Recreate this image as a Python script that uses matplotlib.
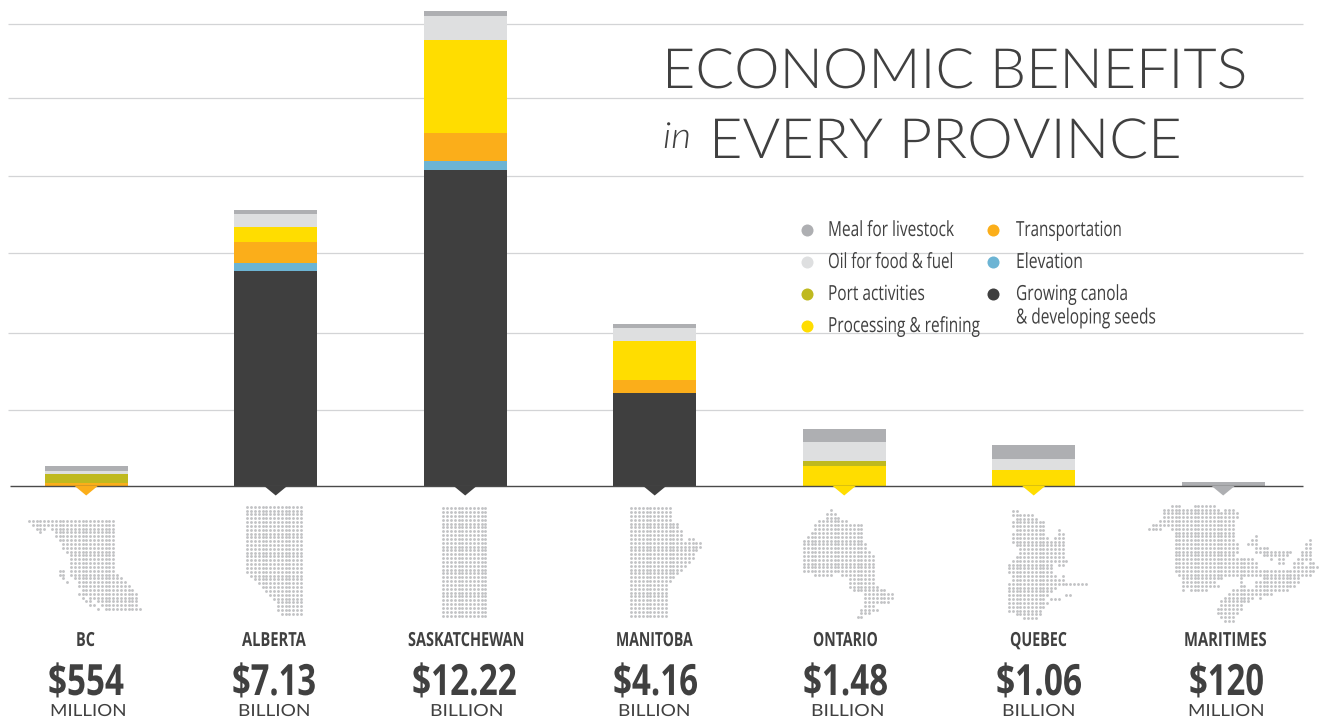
import matplotlib
matplotlib.use("Agg")
import matplotlib.pyplot as plt
import matplotlib.patheffects as pe
from matplotlib.transforms import Affine2D

# ---- data (billions of dollars) ----
provinces = ["BC", "ALBERTA", "SASKATCHEWAN", "MANITOBA", "ONTARIO", "QUEBEC", "MARITIMES"]
amounts = ["$554", "$7.13", "$12.22", "$4.16", "$1.48", "$1.06", "$120"]
units = ["MILLION", "BILLION", "BILLION", "BILLION", "BILLION", "BILLION", "MILLION"]
growing = [0, 5.57, 8.19, 2.41, 0, 0, 0]
elevation = [0, 0.21, 0.23, 0, 0, 0, 0]
transportation = [0.08, 0.54, 0.73, 0.34, 0, 0, 0]
processing = [0, 0.39, 2.41, 1.01, 0.52, 0.41, 0]
port = [0.23, 0, 0, 0, 0.13, 0, 0]
oil = [0.08, 0.34, 0.62, 0.34, 0.49, 0.31, 0]
meal = [0.13, 0.10, 0.13, 0.10, 0.34, 0.34, 0.12]
grid_values = [1.97, 3.96, 6.04, 8.03, 10.05, 11.97]

stack_order = [growing, elevation, transportation, processing, port, oil, meal]
stack_colors = ["#3F3F3F", "#6CB4D4", "#FBAE1A", "#FFDD00", "#BFB91F", "#DEDFE0", "#AEAFB2"]

legend_left = ["Meal for livestock", "Oil for food & fuel", "Port activities", "Processing & refining"]
legend_left_colors = ["#AEAFB2", "#DEDFE0", "#BFB91F", "#FFDD00"]
legend_right = ["Transportation", "Elevation", "Growing canola"]
legend_right_colors = ["#FBAE1A", "#6CB4D4", "#3F3F3F"]
legend_extra = "& developing seeds"

# dotted province maps: each row is a list of (first column, last column)
map_bc = [[(0,22)],[(1,22)],[(2,4),(6,22)],[(3,3),(7,22)],[(7,22)],[(8,22)],[(9,22)],[(9,22)],[(10,22)],[(11,22)],
          [(11,22)],[(11,22)],[(11,22)],[(8,9),(11,22)],[(8,9),(11,23)],[(9,9),(12,24)],[(10,10),(13,25)],[(13,26)],
          [(14,27)],[(13,13),(14,28)],[(14,14),(16,28)],[(15,16),(18,28)],[(16,17),(19,28)],[(18,18),(20,29)]]
map_alberta = [[(0,14)]]*18 + [[(k,14)] for k in (1,2,3,4,5,6,7,8,8,8,9)]
map_sask = [[(0,11)]]*29
map_manitoba = [[(0,10)]]*4 + [[(0,12)]]*2 + [[(0,13)]]*2 + [[(0,13),(15,16)]] + [[(0,18)]]*2 + \
               [[(0,17)]] + [[(0,16)]]*2 + [[(0,15)],[(0,14)],[(0,13)],[(0,12)],[(0,11)],[(0,10)]] + [[(0,9)]]*9
map_ontario = [[(7,7)],[(6,8)],[(6,9)],[(4,11)],[(3,15)],[(3,15)],[(2,15)],[(1,15)],[(0,15)],[(0,16)],[(0,16)],
               [(0,17)],[(0,18)],[(0,18)],[(0,18)],[(0,18)],[(0,18)],[(3,7),(10,18)],[(12,18)],[(12,18)],[(12,19)],
               [(13,21)],[(16,23)],[(16,23)],[(16,22)],[(16,18)],[(15,19)],[(15,17)],[(14,15)]]
map_quebec = [[(1,2)],[(1,6)],[(2,7)],[(1,9)],[(1,9)],[(2,9),(13,13)],[(1,9),(13,14)],[(1,10),(12,14)],[(1,11),(12,14)],
              [(2,14)],[(3,14)],[(3,14)],[(2,14)],[(1,15)],[(0,11),(13,14)],[(0,11)],[(0,11)],[(1,12),(14,14)],[(1,14)],
              [(0,20)],[(0,12)],[(0,11)],[(0,10),(15,16)],[(0,9),(11,13)],[(0,10)],[(0,9)],[(0,8)],[(2,8)],[(4,7)]]
map_maritimes = [[(6,8),(12,17)],[(4,18),(20,22)],[(4,23)],[(4,23)],[(3,22)],[(1,22)],[(0,3),(6,22)],[(7,22)],
                 [(7,22),(28,28)],[(7,22),(27,28),(42,42)],[(7,23),(26,28),(41,42)],[(7,23),(28,31),(41,42)],
                 [(7,23),(28,37),(40,42)],[(7,22),(30,36),(40,42)],[(7,27),(32,32),(34,35),(39,42)],
                 [(7,28),(34,35),(38,40),(42,43)],[(7,28),(38,44)],[(7,24),(25,33),(34,37),(38,43)],
                 [(8,24),(25,37),(38,42)],[(9,19),(24,24),(30,39)],[(9,17),(24,24),(28,39)],
                 [(9,16),(17,18),(24,25),(28,38)],[(9,9),(11,15),(22,36)],[(21,32)],[(20,27),(29,29)],[(19,26)],
                 [(19,24)],[(18,24)],[(18,23)],[(19,22)],[(20,22)]]
maps = [map_bc, map_alberta, map_sask, map_manitoba, map_ontario, map_quebec, map_maritimes]

# ---- layout, in reference pixels ----
map_origins = [(29,521),(247.3,506.7),(443.3,508.3),(631.3,508.3),(804,510),(1009,511),(1148.7,505.7)]
dot_step = 3.83
label_span = [(76,95),(242,306),(408,525),(616,693),(813,878),(1010,1067),(1184,1267)]
amount_span = [(48,124),(232,316),(412,517),(613,698),(803,888),(996,1082),(1189,1264)]
unit_span = [(50,126),(238,310),(430,503),(618,690),(811,884),(1002,1075),(1188,1264)]
legend_left_span = [(828,954),(828,953),(828,925),(828,980)]
legend_right_span = [(1016,1122),(1016,1083),(1016,1128)]
legend_rows = [236, 268, 300, 332]

DARK = "#404040"
CONDENSED = "Open Sans"

fig = plt.figure(figsize=(13.2, 7.25), dpi=100, facecolor="white")

# chart axes: x = province position, y = billions
PX_Y = 38.6
STEP = 189.5
X0 = 86.2
Y0 = 486.3
ax = fig.add_axes([0, 0, 1, 1])
ax.set_xlim(-X0 / STEP, (1320 - X0) / STEP)
ax.set_ylim(-(725 - Y0) / PX_Y, Y0 / PX_Y)
ax.axis("off")

left, right = (8 - X0) / STEP, (1303 - X0) / STEP
ax.hlines(grid_values, left, right, color="#d3d4d6", lw=0.9, zorder=1)

x = list(range(len(provinces)))
bottom = [0.0] * len(x)
for vals, col in zip(stack_order, stack_colors):
    ax.bar(x, vals, width=83 / STEP, bottom=bottom, color=col, lw=0, zorder=2)
    bottom = [b + v for b, v in zip(bottom, vals)]

ax.hlines(0, (10 - X0) / STEP, right, color="#4a4a4a", lw=1.0, zorder=3)

# overlay in pixel coordinates for the decoration
ov = fig.add_axes([0, 0, 1, 1], facecolor="none")
ov.set_xlim(0, 1320)
ov.set_ylim(725, 0)
ov.axis("off")

for i in x:
    c = X0 + STEP * i
    base_col = next(col for vals, col in zip(stack_order, stack_colors) if vals[i] > 0)
    ov.fill([c - 11.5, c + 11.5, c], [486, 486, 495.5], color=base_col, lw=0, zorder=4)

for rows, (mx, my) in zip(maps, map_origins):
    xs, ys = [], []
    for r, spans in enumerate(rows):
        for a, b in spans:
            for col in range(a, b + 1):
                xs.append(mx + col * dot_step)
                ys.append(my + r * dot_step)
    dots = ov.scatter(xs, ys, s=4.2, color="#c2c3c5", lw=0, zorder=2)
    dots.set_snap(False)


class Squeeze(pe.AbstractPathEffect):
    """Scale the glyphs of a text horizontally around its anchor."""
    def __init__(self, sx, cx):
        super().__init__()
        self.sx, self.cx = sx, cx

    def draw_path(self, renderer, gc, tpath, affine, rgbFace=None):
        a = affine + Affine2D().translate(-self.cx, 0).scale(self.sx, 1).translate(self.cx, 0)
        renderer.draw_path(gc, tpath, a, rgbFace)


renderer = fig.canvas.get_renderer()


def fitted(s, span, base, **kw):
    """Real text drawn between span[0] and span[1] on the baseline base."""
    l, r = span
    mid = (l + r) / 2
    t = ov.text(mid, base, s, color=DARK, ha="center", va="baseline", **kw)
    w = t.get_window_extent(renderer).width
    t.set_path_effects([Squeeze((r - l) / w, mid)])
    return t


for i in x:
    fitted(provinces[i], label_span[i], 646, family=CONDENSED, weight="bold", fontsize=14)
    fitted(amounts[i], amount_span[i], 695, family=CONDENSED, weight="bold", fontsize=31)
    fitted(units[i], unit_span[i], 716, family="Lato", weight=400, fontsize=12)

# title
fitted("ECONOMIC BENEFITS", (662, 1246), 88, family="Lato", weight=300, fontsize=40)
fitted("EVERY PROVINCE", (709, 1181), 158, family="Lato", weight=300, fontsize=40)
fitted("in", (663, 691), 148, family="Lato", weight=300, style="italic", fontsize=26)

# legend
for lab, col, span, yy in zip(legend_left, legend_left_colors, legend_left_span, legend_rows):
    ov.scatter([807], [yy - 6.5], s=75, color=col, lw=0, zorder=4)
    fitted(lab, span, yy, family=CONDENSED, weight=500, fontsize=15)
for lab, col, span, yy in zip(legend_right, legend_right_colors, legend_right_span, legend_rows):
    ov.scatter([993], [yy - 6.5], s=75, color=col, lw=0, zorder=4)
    fitted(lab, span, yy, family=CONDENSED, weight=500, fontsize=15)
fitted(legend_extra, (1016, 1156), 323.5, family=CONDENSED, weight=500, fontsize=15)

fig.savefig("out.png", dpi=100, facecolor="white")
